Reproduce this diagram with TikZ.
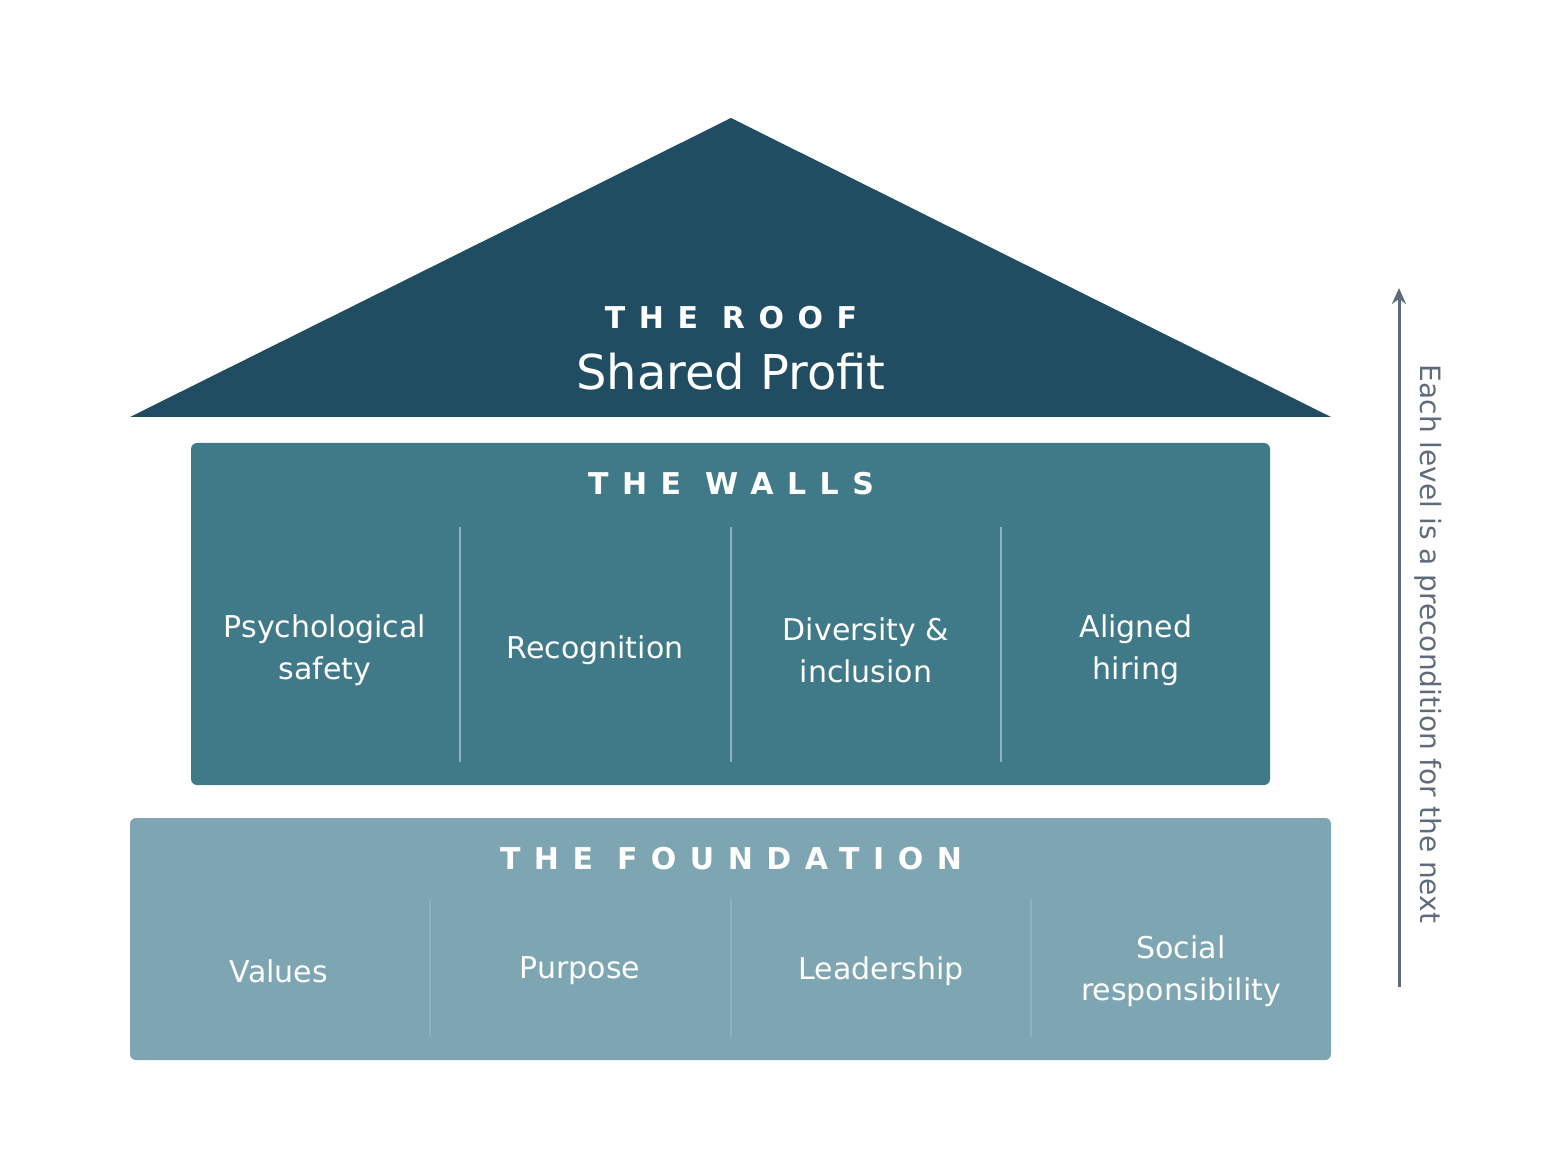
\documentclass[tikz,border=0pt]{standalone}
\usepackage{fontspec}
\setmainfont{DejaVu Sans}
\definecolor{hsRoof}{HTML}{214D62}
\definecolor{hsWall}{HTML}{407A89}
\definecolor{hsBase}{HTML}{7DA6B2}
\definecolor{hsLine}{HTML}{8FB3BE}
\definecolor{hsMuted}{HTML}{5F6B7A}
\usetikzlibrary{calc,positioning,arrows.meta}

\tikzset{
  tier/.style={font=\fontsize{15}{15}\selectfont\bfseries\addfontfeatures{LetterSpace=45}, text=white},
  item/.style={font=\fontsize{15}{21}\selectfont, text=white, align=center},
  divider/.style={draw=hsLine, line width=1.2pt}
}

\begin{document}
\begin{tikzpicture}[x=0.5pt, y=-0.5pt]
  \useasboundingbox (0,0) rectangle (1542,1160);

  % Roof
  \fill[hsRoof] (130,417) -- (731,118) -- (1331,417) -- cycle;
  \node[tier] (rooftitle) at (731,318) {THE ROOF};
  \node[font=\fontsize{24}{24}\selectfont, text=white] (roofname) at (731,372) {Shared Profit};

  % Walls
  \fill[hsWall, rounded corners=3pt] (191,443) rectangle (1270,785);
  \node[tier] (walltitle) at (731,484) {THE WALLS};
  \foreach \x in {460,731,1001}
    \draw[divider] (\x,527) -- (\x,762);
  \node[item] (psych) at (325,650) {Psychological\\safety};
  \node[item] (recog) at (595,650) {Recognition};
  \node[item] (diver) at (866,650) {Diversity \&\\inclusion};
  \node[item] (hiring) at (1136,650) {Aligned\\hiring};

  % Foundation
  \fill[hsBase, rounded corners=3pt] (130,818) rectangle (1331,1060);
  \node[tier] (basetitle) at (731,859) {THE FOUNDATION};
  \foreach \x in {430,731,1031}
    \draw[divider] (\x,899) -- (\x,1037);
  \node[item] (values) at (279,971) {Values};
  \node[item] (purpose) at (580,971) {Purpose};
  \node[item] (leader) at (881,971) {Leadership};
  \node[item] (social) at (1181,971) {Social\\responsibility};

  % Precondition arrow
  \coordinate (arrowlow) at (1399,987);
  \coordinate (arrowtop) at (1399,288);
  \draw[hsMuted, line width=1.5pt, -{Stealth[length=8pt,width=7pt]}] (arrowlow) -- (arrowtop);
  \node[font=\fontsize{14}{14}\selectfont, text=hsMuted, rotate=-90] (arrowtext) at (1428,644) {Each level is a precondition for the next};
\end{tikzpicture}
\end{document}
